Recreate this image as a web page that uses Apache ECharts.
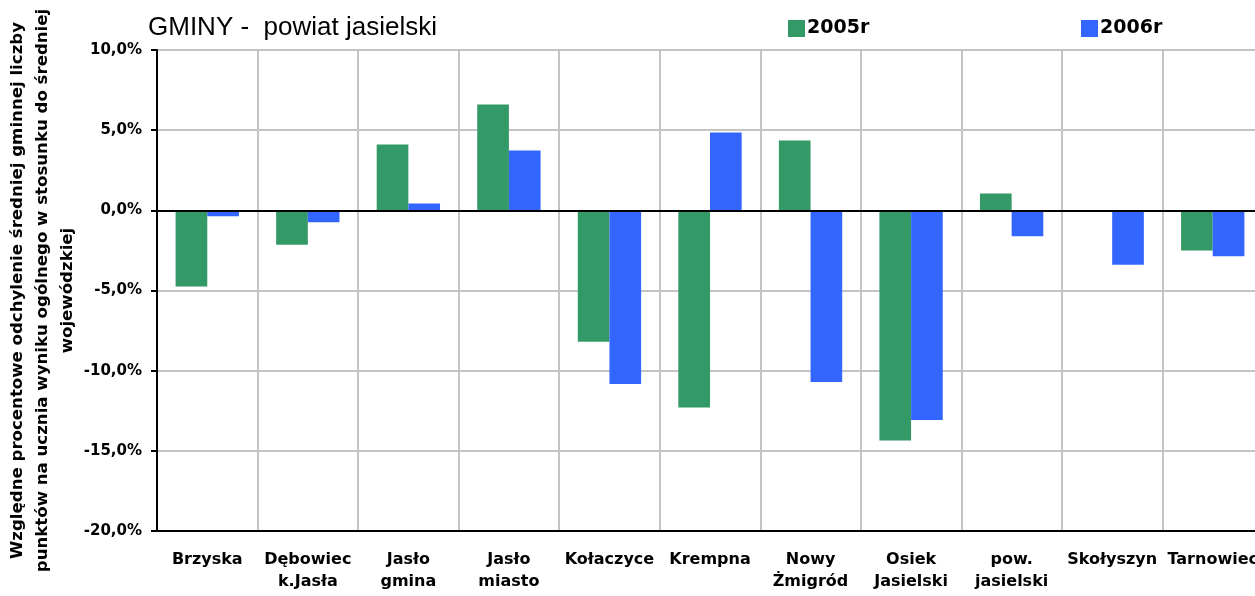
<!DOCTYPE html>
<html lang="pl" style="height: 100%">
<head>
  <meta charset="utf-8">
  <script src="https://cdn.jsdelivr.net/npm/echarts/dist/echarts.min.js"></script>
</head>
<body style="height: 100%; margin: 0">
  <div id="container" style="width: 1255px; height: 596px"></div>

  <script type="text/javascript">
    // dane
    var gminy = ['Brzyska', 'Dębowiec\nk.Jasła', 'Jasło\ngmina', 'Jasło\nmiasto', 'Kołaczyce', 'Krempna',
      'Nowy\nŻmigród', 'Osiek\nJasielski', 'pow.\njasielski', 'Skołyszyn', 'Tarnowiec'];
    var dane2005 = [-4.75, -2.15, 4.1, 6.6, -8.2, -12.3, 4.35, -14.35, 1.05, 0, -2.5];
    var dane2006 = [-0.37, -0.75, 0.42, 3.73, -10.83, 4.86, -10.7, -13.08, -1.62, -3.4, -2.87];
    var yTicks = [-20, -15, -10, -5, 0, 5, 10];

    var font = "'Liberation Sans', Arial, sans-serif";
    var boldFont = "'DejaVu Sans', Verdana, sans-serif";
    var dom = document.getElementById('container');
    var myChart = echarts.init(dom, null, { renderer: 'canvas' });

    var option = {
      animation: false,
      textStyle: { fontFamily: font },
      title: {
        text: 'GMINY -  powiat jasielski',
        left: 143,
        top: 10,
        textStyle: { fontFamily: font, fontSize: 26, fontWeight: 'normal', color: '#000' }
      },
      legend: [
        {
          data: ['2005r'], left: 783, top: 14, itemWidth: 17, itemHeight: 17, itemGap: 0,
          icon: 'rect',
          textStyle: { fontFamily: boldFont, fontSize: 19, fontWeight: 'bold', color: '#000', padding: [0, 0, 0, -3] }
        },
        {
          data: ['2006r'], left: 1076, top: 14, itemWidth: 17, itemHeight: 17, itemGap: 0,
          icon: 'rect',
          textStyle: { fontFamily: boldFont, fontSize: 19, fontWeight: 'bold', color: '#000', padding: [0, 0, 0, -3] }
        }
      ],
      grid: {
        left: 157, right: -8, top: 50, bottom: 65,
        outerBoundsMode: 'none',
        show: true, borderColor: '#000', borderWidth: 2, containLabel: false
      },
      xAxis: {
        type: 'category',
        data: gminy,
        axisLine: { onZero: false, lineStyle: { color: '#000', width: 2 } },
        axisTick: { show: false },
        axisLabel: {
          interval: 0, margin: 18, color: '#000', fontFamily: boldFont,
          fontSize: 16, fontWeight: 'bold', lineHeight: 22
        },
        splitLine: { show: true, lineStyle: { color: '#c4c4c4', width: 2 } }
      },
      yAxis: {
        type: 'value',
        min: yTicks[0],
        max: yTicks[yTicks.length - 1],
        interval: 5,
        name: 'Względne procentowe odchylenie średniej gminnej liczby\npunktów na ucznia wyniku ogólnego w stosunku do średniej\nwojewódzkiej',
        nameLocation: 'middle',
        nameGap: 77,
        nameMoveOverlap: false,
        nameTextStyle: { fontFamily: boldFont, fontSize: 16.6, fontWeight: 'bold', color: '#000', lineHeight: 25 },
        axisLine: { show: true, lineStyle: { color: '#000', width: 2 } },
        axisTick: { show: true, length: 6, lineStyle: { color: '#000', width: 2 } },
        axisLabel: {
          color: '#000', fontFamily: boldFont, fontSize: 15, fontWeight: 'bold', margin: 15,
          formatter: function (v) { return v.toFixed(1).replace('.', ',') + '%'; }
        },
        splitLine: { show: true, lineStyle: { color: '#c4c4c4', width: 2 } }
      },
      series: [
        {
          name: '2005r', type: 'bar', data: dane2005,
          itemStyle: { color: '#339966' },
          barGap: '0%', barCategoryGap: '37%',
          markLine: {
            silent: true, symbol: 'none', label: { show: false },
            lineStyle: { color: '#000', width: 2, type: 'solid' },
            data: [{ yAxis: 0 }]
          }
        },
        {
          name: '2006r', type: 'bar', data: dane2006,
          itemStyle: { color: '#3366ff' },
          barGap: '0%', barCategoryGap: '37%'
        }
      ]
    };

    myChart.setOption(option);
    window.addEventListener('resize', myChart.resize);
  </script>
</body>
</html>
